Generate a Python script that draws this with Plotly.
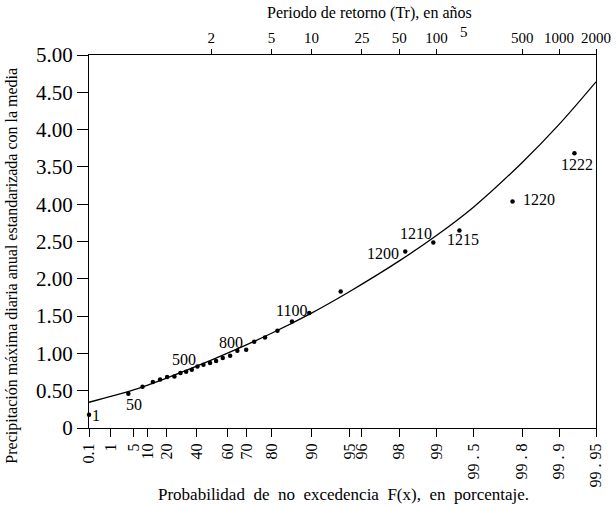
import numpy as np
import plotly.graph_objects as go

# ---------------- data ----------------
# observed points: non-exceedance probability (%) and standardized value
point_prob = [0.1, 3.7, 8.0, 12.5, 16.3, 20.4, 25.0, 29.0, 32.9, 36.8, 40.7, 44.8,
              49.2, 53.1, 57.2, 61.5, 65.4, 69.8, 73.4, 77.7, 81.9, 85.9, 89.6,
              94.1, 98.21, 98.94, 99.35, 99.76, 99.925]
point_val = [0.178, 0.459, 0.553, 0.616, 0.651, 0.683, 0.691, 0.737, 0.754, 0.781,
             0.825, 0.848, 0.870, 0.897, 0.938, 0.968, 1.035, 1.049, 1.156, 1.214,
             1.303, 1.428, 1.540, 1.830, 2.365, 2.486, 2.647, 3.035, 3.683]
# rank labels (index into the point lists -> label)
label_idx = [0, 1, 10, 16, 22, 24, 25, 26, 27, 28]
label_txt = ["1", "50", "500", "800", "1100", "1200", "1210", "1215", "1220", "1222"]

# fitted curve
curve_prob = [0.1, 5, 20, 50, 80, 90, 95, 98, 99, 99.5, 99.8, 99.9, 99.95]
curve_val = [0.345, 0.51, 0.67, 0.91, 1.27, 1.54, 1.83, 2.24, 2.58, 2.96, 3.56, 4.07, 4.64]

# axes
bottom_tick_prob = [0.1, 1, 5, 10, 20, 40, 60, 70, 80, 90, 95, 96, 98, 99, 99.5, 99.8, 99.9, 99.95]
bottom_tick_text = ["0.1", "1", "5", "10", "20", "40", "60", "70", "80", "90", "95", "96",
                    "98", "99", "99 . 5", "99 . 8", "99 . 9", "99 . 95"]
top_tick_T = [2, 5, 10, 25, 50, 100, 500, 1000, 2000]
top_tick_text = ["2", "5", "10", "25", "50", "100", "500", "1000", "2000"]
y_tick_vals = [0, 0.5, 1.0, 1.5, 2.0, 2.5, 3.0, 3.5, 4.0, 4.5, 5.0]
y_tick_text = ["0", "0.50", "1.00", "1.50", "2.00", "2.50", "4.00", "3.50", "4.00", "4.50", "5.00"]


def gumbel(p_pct):
    p = np.asarray(p_pct, dtype=float) / 100.0
    return -np.log(-np.log(p))


def gumbel_T(T):
    T = np.asarray(T, dtype=float)
    return -np.log(-np.log(1 - 1 / T))


FONT = "Liberation Serif, Times New Roman, serif"
xr = [float(gumbel(0.1)), float(gumbel(99.95))]

fig = go.Figure()
fig.add_trace(go.Scatter(x=gumbel(curve_prob), y=curve_val, mode="lines",
                         line=dict(color="black", width=1.3, shape="spline", smoothing=1.0),
                         hoverinfo="skip", showlegend=False))
fig.add_trace(go.Scatter(x=gumbel(point_prob), y=point_val, mode="markers",
                         marker=dict(color="black", size=4.5), cliponaxis=False,
                         showlegend=False))
# dummy trace to activate the top axis
fig.add_trace(go.Scatter(x=gumbel_T(top_tick_T), y=[0.5] * len(top_tick_T), xaxis="x2",
                         mode="markers", marker=dict(opacity=0), hoverinfo="skip",
                         showlegend=False))

# label placement styles (pixel shifts)
shifts = {"1": (7, -1), "50": (6, -11), "500": (-13, 7), "800": (-6, 8),
          "1100": (-18, 3), "1200": (-22, -2), "1210": (-17, 9), "1215": (4, -9),
          "1220": (26, 2), "1222": (3, -11)}
ann = []
for i, t in zip(label_idx, label_txt):
    dx, dy = shifts[t]
    ann.append(dict(x=float(gumbel(point_prob[i])), y=point_val[i], xref="x", yref="y",
                    text=t, showarrow=False, xanchor="center", yanchor="middle",
                    xshift=dx, yshift=dy, font=dict(family=FONT, size=16, color="black")))

# stray "5" label on the top scale (between 100 and 500)
ann.append(dict(x=float(gumbel_T(200)), y=1, xref="x2", yref="paper", text="5",
                showarrow=False, xanchor="center", yanchor="bottom", xshift=-9, yshift=13,
                font=dict(family=FONT, size=15, color="black")))

NB = "\u00a0"
# axis titles
ann.append(dict(x=0.554, y=1.113, xref="paper", yref="paper",
                text="Periodo de retorno (Tr), en años", showarrow=False,
                xanchor="center", yanchor="middle", font=dict(family=FONT, size=16, color="black")))
ann.append(dict(x=0.502, y=-0.177, xref="paper", yref="paper",
                text=("Probabilidad de no excedencia F(x), en porcentaje.").replace(" ", NB + " "),
                showarrow=False,
                xanchor="center", yanchor="middle", font=dict(family=FONT, size=17, color="black")))
ann.append(dict(x=-0.152, y=0.435, xref="paper", yref="paper", textangle=-90,
                text="Precipitación máxima diaria anual estandarizada con la media",
                showarrow=False, xanchor="center", yanchor="middle",
                font=dict(family=FONT, size=16, color="black")))

fig.update_layout(
    width=616, height=505,
    margin=dict(l=89, r=20, t=55, b=77, autoexpand=False),
    paper_bgcolor="white", plot_bgcolor="white",
    font=dict(family=FONT, color="black"),
    showlegend=False,
    annotations=ann,
    xaxis=dict(range=xr, tickmode="array", tickvals=gumbel(bottom_tick_prob),
               ticktext=bottom_tick_text, tickangle=-90, ticks="outside", ticklen=8,
               tickwidth=1.2, tickcolor="black", showline=True, linecolor="black",
               linewidth=1.3, showgrid=False, zeroline=False, automargin=False,
               tickfont=dict(family=FONT, size=16, color="black")),
    xaxis2=dict(range=xr, overlaying="x", side="top", tickmode="array",
                tickvals=gumbel_T(top_tick_T), ticktext=top_tick_text, tickangle=0,
                ticks="outside", ticklen=5, tickwidth=1.2, tickcolor="black",
                showline=True, linecolor="black", linewidth=1.3, showgrid=False,
                zeroline=False, automargin=False,
                tickfont=dict(family=FONT, size=15, color="black")),
    yaxis=dict(range=[0, 5], tickmode="array", tickvals=y_tick_vals, ticktext=y_tick_text,
               ticks="outside", ticklen=11, tickwidth=1.2, tickcolor="black",
               showline=True, linecolor="black", linewidth=1.3, mirror=True,
               showgrid=False, zeroline=False, automargin=False,
               tickfont=dict(family=FONT, size=21, color="black")),
)

fig.write_html("out.html", config={"displayModeBar": False},
               post_script="document.body.style.margin='0';document.body.style.padding='0';")
